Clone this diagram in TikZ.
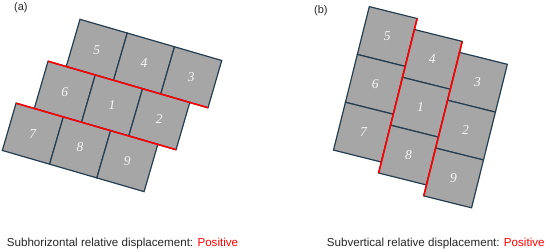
\documentclass[tikz,border=0pt]{standalone}
\usepackage{fontspec}
\setsansfont{Liberation Sans}
\newfontfamily\digitfont{Liberation Serif}
\usetikzlibrary{calc}
\definecolor{tilefill}{HTML}{A6A6A6}
\definecolor{tileedge}{HTML}{253D4F}
\definecolor{dispred}{HTML}{FF0000}
\definecolor{numcol}{HTML}{F7F7F7}
\definecolor{captext}{HTML}{262626}
\tikzset{
  tile/.style={fill=tilefill, draw=tileedge, line width=1.2pt, line join=miter},
  num/.style={text=numcol, font=\digitfont\fontsize{13.5}{13.5}\selectfont\itshape, inner sep=0pt},
  redline/.style={draw=dispred, line width=1.6pt},
  caption/.style={font=\sffamily\fontsize{11.6}{13}\selectfont, text=captext, inner sep=0pt, anchor=base west},
  panel/.style={font=\sffamily\fontsize{11}{12}\selectfont, text=captext, inner sep=0pt, anchor=base west}
}
\begin{document}
\begin{tikzpicture}[x=1pt,y=-1pt]
\useasboundingbox (0,0) rectangle (550,252);
% ---------- panel (a): rows shifted along row direction ----------
% r = (47.25,13.73), d = (-13.73,47.25), row step = (-31.97,41.95)
\foreach \k/\labs in {0/{5,4,3},1/{6,1,2},2/{7,8,9}}{
  \foreach \lab [count=\i from 0] in \labs {
    \pgfmathsetmacro\tx{80 + \k*(-31.97) + \i*47.25}
    \pgfmathsetmacro\ty{19.3 + \k*41.95 + \i*13.73}
    \draw[tile] (\tx,\ty) -- ++(47.25,13.73) -- ++(-13.73,47.25) -- ++(-47.25,-13.73) -- cycle;
    \node[num] (a\lab) at ($(\tx,\ty)+(16.76,30.49)$) {\lab};
  }
}
\coordinate (aR1s) at (48.03,61.25);
\coordinate (aR1e) at ($(80,19.3)+(141.75,41.19)+(-13.73,47.25)$);
\coordinate (aR2s) at (16.06,103.2);
\coordinate (aR2e) at ($(48.03,61.25)+(141.75,41.19)+(-13.73,47.25)$);
\draw[redline] (aR1s) -- (aR1e);
\draw[redline] (aR2s) -- (aR2e);
% ---------- panel (b): columns shifted along column direction ----------
% r = (47.84,11.93), d = (-11.93,47.84), column step = (45.11,22.89)
\foreach \k/\labs in {0/{5,6,7},1/{4,1,8},2/{3,2,9}}{
  \foreach \lab [count=\j from 0] in \labs {
    \pgfmathsetmacro\tx{369.3 + \k*45.11 + \j*(-11.93)}
    \pgfmathsetmacro\ty{6.6 + \k*22.89 + \j*47.84}
    \draw[tile] (\tx,\ty) -- ++(47.84,11.93) -- ++(-11.93,47.84) -- ++(-47.84,-11.93) -- cycle;
    \node[num] (b\lab) at ($(\tx,\ty)+(17.96,29.89)$) {\lab};
  }
}
\coordinate (bR1s) at ($(369.3,6.6)+(47.84,11.93)$);
\coordinate (bR1e) at ($(369.3,6.6)+(45.11,22.89)+(-35.79,143.52)$);
\coordinate (bR2s) at ($(369.3,6.6)+(45.11,22.89)+(47.84,11.93)$);
\coordinate (bR2e) at ($(369.3,6.6)+(90.22,45.78)+(-35.79,143.52)$);
\draw[redline] (bR1s) -- (bR1e);
\draw[redline] (bR2s) -- (bR2e);
% ---------- labels ----------
\node[panel] (pa) at (14,10.5) {(a)};
\node[panel] (pb) at (314,13.5) {(b)};
\node[caption] (ca) at (6.7,246.7) {Subhorizontal relative displacement: \textcolor{dispred}{Positive}};
\node[caption] (cb) at (326.7,246.7) {Subvertical relative displacement: \textcolor{dispred}{Positive}};
\end{tikzpicture}
\end{document}
